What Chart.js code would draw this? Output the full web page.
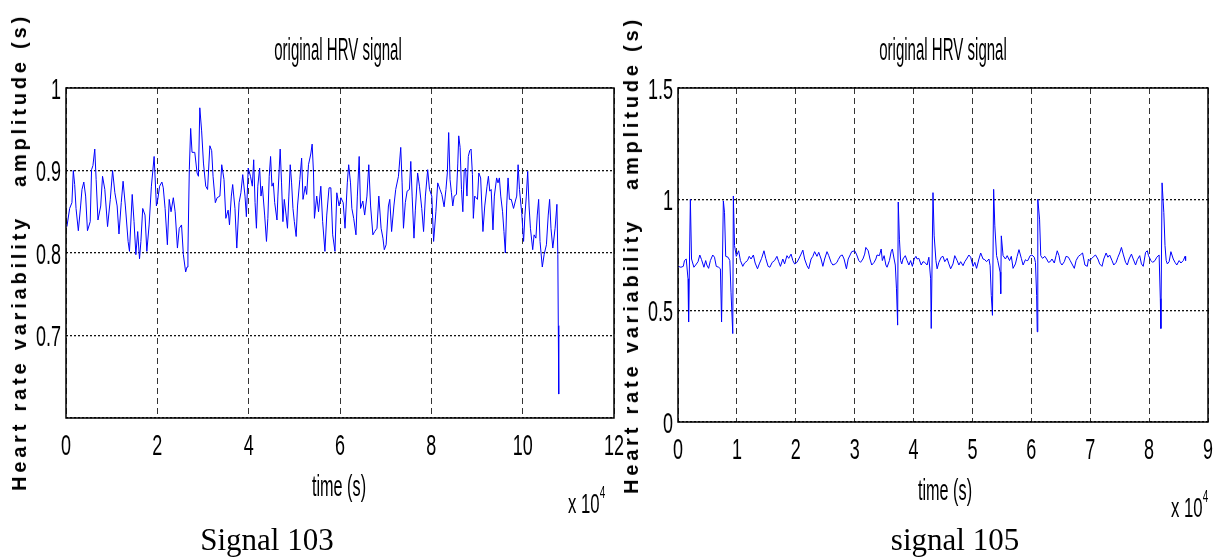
<!DOCTYPE html>
<html>
<head>
<meta charset="utf-8">
<script src="https://cdn.jsdelivr.net/npm/chart.js@4.4.1/dist/chart.umd.min.js"></script>
<style>
  body { margin: 0; background: #fff; }
  #page { position: relative; width: 1213px; height: 557px; overflow: hidden; background: #fff; }
  .box { position: absolute; top: 0; }
  .txt { position: absolute; white-space: pre; line-height: 1; color: #000; font-family: "Liberation Sans", Arial, sans-serif; }
  .title { font-size: 32px; transform: translateX(-50%) scaleX(0.47); }
  .xlab { font-size: 29px; transform: translateX(-50%) scaleX(0.56); }
  .expo { font-size: 27px; transform-origin: left top; transform: scaleX(0.62); }
  .expo span { font-size: 16px; position: relative; top: -15px; }
  .ylab { font-size: 20px; font-weight: bold; letter-spacing: 3.8px; transform: translate(-50%, -50%) rotate(-90deg); }
  .cap { font-family: "Liberation Serif", "Times New Roman", serif; font-size: 31px; transform: translateX(-50%); }
</style>
</head>
<body>
<div id="page">
  <div class="box" style="left:0"><canvas id="c103" width="640" height="557"></canvas></div>
  <div class="box" style="left:620px"><canvas id="c105" width="593" height="557"></canvas></div>

  <div class="txt title" style="left:338px; top:33px">original HRV signal</div>
  <div class="txt title" style="left:943px; top:33px">original HRV signal</div>
  <div class="txt xlab" style="left:339px; top:472px">time (s)</div>
  <div class="txt xlab" style="left:945px; top:476px">time (s)</div>
  <div class="txt expo" style="left:568px; top:491px">x 10<span>4</span></div>
  <div class="txt expo" style="left:1171px; top:495px">x 10<span>4</span></div>
  <div class="txt ylab" style="left:19px; top:252px">Heart rate variability   amplitude (s)</div>
  <div class="txt ylab" style="left:631px; top:255px">Heart rate variability   amplitude (s)</div>
  <div class="txt cap" style="left:267px; top:524px">Signal 103</div>
  <div class="txt cap" style="left:955px; top:524px">signal 105</div>
</div>
<script>
// signal 103, time in units of 1e4 s
const time103 = [
  0.02,0.08,0.13,0.16,0.19,0.22,0.27,0.32,0.35,0.39,0.43,0.47,0.53,0.56,0.59,0.63,0.66,0.70,0.76,0.80,
  0.85,0.91,0.97,1.02,1.07,1.12,1.16,1.21,1.25,1.30,1.36,1.39,1.45,1.49,1.53,1.57,1.61,1.64,1.68,1.73,
  1.77,1.82,1.87,1.93,1.98,2.01,2.05,2.10,2.13,2.17,2.22,2.26,2.30,2.35,2.39,2.44,2.48,2.53,2.57,2.62,
  2.65,2.67,2.70,2.73,2.76,2.82,2.87,2.90,2.93,2.97,3.01,3.06,3.10,3.15,3.19,3.22,3.27,3.31,3.37,3.41,
  3.46,3.50,3.55,3.58,3.62,3.65,3.70,3.74,3.79,3.83,3.87,3.92,3.95,3.99,4.04,4.08,
  4.11,4.14,4.17,4.20,4.24,4.27,4.30,4.35,4.39,4.42,4.45,4.48,4.51,4.54,4.57,4.62,4.64,4.69,4.72,4.75,
  4.78,4.82,4.85,4.88,4.91,4.94,4.97,5.00,5.04,5.07,5.12,5.16,5.19,5.24,5.27,5.31,5.36,5.39,5.42,5.44,
  5.49,5.53,5.58,5.62,5.67,5.71,5.76,5.80,5.84,5.89,5.93,5.98,6.02,6.07,6.11,6.16,6.19,6.23,6.26,6.30,
  6.35,6.38,6.42,6.45,6.50,6.54,6.59,6.63,6.67,6.72,6.76,6.81,6.85,6.90,6.94,6.97,7.01,7.06,7.09,7.13,
  7.18,7.22,7.28,7.33,7.36,7.39,7.43,7.47,7.52,7.55,7.58,7.62,7.65,7.70,7.74,7.79,7.83,7.87,7.92,7.96,
  8.01,8.05,8.10,8.14,8.19,
  8.23,8.28,8.32,8.35,8.38,8.41,8.44,8.47,8.50,8.55,8.58,8.60,8.63,8.66,8.69,8.72,8.75,8.78,8.81,8.84,
  8.87,8.90,8.92,8.95,8.98,9.01,9.04,9.08,9.13,9.17,9.22,9.25,9.28,9.31,9.35,9.38,9.43,9.46,9.49,9.52,
  9.56,9.59,9.62,9.65,9.68,9.71,9.75,9.80,9.84,9.87,9.90,9.93,9.98,10.02,10.05,10.08,10.11,10.14,10.17,10.22,
  10.25,10.29,10.32,10.35,10.38,10.43,10.47,10.52,10.56,10.59,10.62,10.66,10.71,10.75,10.77,10.78,10.79
];
const hrv103 = [
  0.832,0.854,0.861,0.900,0.883,0.854,0.827,0.857,0.877,0.886,0.869,0.827,0.838,0.901,0.906,0.926,0.889,0.840,0.857,0.893,
  0.877,0.832,0.865,0.900,0.873,0.857,0.823,0.861,0.887,0.857,0.814,0.802,0.871,0.838,0.798,0.826,0.793,0.814,0.854,0.846,
  0.802,0.834,0.881,0.917,0.857,0.865,0.881,0.886,0.879,0.854,0.810,0.865,0.850,0.867,0.850,0.806,0.830,0.834,0.798,0.777,
  0.783,0.802,0.901,0.951,0.922,0.922,0.897,0.893,0.976,0.948,0.909,0.881,0.877,0.930,0.924,0.893,0.861,0.867,0.869,0.907,
  0.889,0.842,0.852,0.834,0.869,0.883,0.854,0.806,0.861,0.873,0.895,0.869,0.844,0.903,0.893,0.881,
  0.913,0.861,0.830,0.881,0.903,0.869,0.881,0.846,0.814,0.842,0.893,0.917,0.881,0.885,0.861,0.840,0.869,0.926,0.885,0.838,
  0.865,0.846,0.830,0.869,0.907,0.885,0.854,0.838,0.820,0.857,0.889,0.915,0.865,0.881,0.871,0.907,0.920,0.932,0.897,0.842,
  0.869,0.850,0.881,0.838,0.802,0.846,0.879,0.879,0.822,0.802,0.873,0.857,0.867,0.861,0.830,0.885,0.907,0.885,0.854,0.842,
  0.822,0.869,0.917,0.854,0.863,0.846,0.869,0.907,0.857,0.822,0.826,0.830,0.869,0.830,0.818,0.804,0.810,0.857,0.865,0.826,
  0.857,0.877,0.893,0.928,0.885,0.830,0.861,0.875,0.877,0.911,0.869,0.818,0.852,0.897,0.881,0.854,0.826,0.869,0.901,0.877,
  0.869,0.814,0.850,0.885,0.877,
  0.871,0.856,0.877,0.897,0.946,0.889,0.873,0.857,0.869,0.871,0.909,0.942,0.928,0.877,0.850,0.899,0.903,0.869,0.917,0.924,
  0.926,0.895,0.842,0.869,0.867,0.865,0.897,0.891,0.826,0.857,0.881,0.893,0.875,0.877,0.828,0.869,0.891,0.885,0.891,0.869,
  0.850,0.826,0.800,0.857,0.891,0.865,0.865,0.854,0.863,0.869,0.907,0.877,0.848,0.814,0.846,0.869,0.899,0.857,0.830,0.804,
  0.822,0.818,0.846,0.865,0.814,0.783,0.798,0.810,0.846,0.865,0.830,0.806,0.830,0.859,0.798,0.712,0.629
];

// signal 105, time in units of 1e4 s
const time105 = [
  0.00,0.05,0.09,0.11,0.14,0.17,0.18,0.21,0.23,0.27,0.30,0.34,0.37,0.40,0.44,0.47,0.49,0.52,0.55,0.59,
  0.62,0.65,0.69,0.72,0.74,0.77,0.79,0.81,0.85,0.88,0.90,0.93,0.94,0.96,0.99,1.03,1.06,1.10,1.13,1.18,
  1.21,1.24,1.28,1.31,1.35,1.38,1.42,1.46,1.49,1.53,1.56,1.60,1.64,1.68,1.71,1.74,1.78,1.81,1.85,1.88,
  1.92,1.95,1.98,2.02,2.05,2.09,2.12,2.15,2.19,2.22,2.26,2.29,2.32,2.36,2.39,2.43,2.46,2.49,2.53,2.56,
  2.60,2.63,2.67,2.70,2.72,2.76,2.79,2.82,2.86,2.89,2.93,2.95,
  3.00,3.03,3.07,3.10,3.14,3.17,3.19,3.23,3.26,3.29,3.33,3.36,3.38,3.42,3.45,3.47,3.50,3.53,3.55,3.59,
  3.62,3.64,3.67,3.69,3.71,3.73,3.74,3.76,3.78,3.80,3.82,3.86,3.89,3.92,3.95,3.98,4.01,4.04,4.06,4.09,
  4.13,4.16,4.19,4.23,4.26,4.29,4.30,4.33,4.35,4.38,4.40,4.43,4.47,4.50,4.53,4.57,4.60,4.63,4.67,4.70,
  4.74,4.77,4.80,4.84,4.87,4.90,4.94,4.97,5.01,5.04,5.07,5.11,5.14,5.18,5.21,5.24,5.28,5.30,5.32,5.34,
  5.36,5.38,5.41,5.43,5.47,5.48,5.49,5.52,5.56,5.59,5.63,5.66,5.69,5.73,5.76,5.79,5.83,5.86,5.90,5.92,
  5.94,5.98,6.01,6.05,6.07,6.09,6.10,6.11,6.14,6.16,6.19,6.23,6.26,6.29,6.32,6.35,6.39,6.42,6.44,6.47,
  6.49,6.52,6.56,6.59,6.63,6.66,6.70,6.73,6.76,6.80,6.83,6.87,6.89,6.91,6.95,6.97,6.99,7.03,7.06,7.09,
  7.13,7.16,7.20,7.23,7.27,7.30,7.33,7.37,7.40,7.44,7.47,7.50,7.53,7.56,7.60,7.63,7.66,7.70,7.73,7.77,
  7.80,7.84,7.87,7.90,7.94,7.97,7.99,8.03,8.06,8.10,8.13,8.17,8.19,8.20,8.22,8.25,8.27,8.29,8.31,8.34,
  8.37,8.41,8.44,8.47,8.51,8.54,8.58,8.61,8.62
];
const hrv105 = [
  0.699,0.695,0.699,0.725,0.732,0.643,0.449,1.000,0.732,0.695,0.705,0.720,0.750,0.729,0.695,0.725,0.705,0.690,0.725,0.750,
  0.740,0.699,0.695,0.688,0.449,0.993,0.940,0.744,0.740,0.725,0.583,0.397,1.015,0.792,0.744,0.769,0.725,0.699,0.714,0.725,
  0.744,0.732,0.750,0.714,0.688,0.710,0.735,0.769,0.735,0.699,0.695,0.717,0.725,0.744,0.720,0.699,0.732,0.710,0.747,0.735,
  0.754,0.725,0.710,0.717,0.732,0.754,0.772,0.732,0.702,0.688,0.732,0.744,0.765,0.744,0.762,0.732,0.699,0.732,0.765,0.747,
  0.717,0.705,0.710,0.717,0.729,0.747,0.750,0.732,0.688,0.732,0.754,0.765,
  0.769,0.754,0.725,0.717,0.732,0.754,0.784,0.769,0.732,0.705,0.717,0.732,0.750,0.747,0.777,0.725,0.747,0.705,0.695,0.725,
  0.765,0.777,0.732,0.705,0.598,0.435,0.988,0.821,0.725,0.710,0.732,0.747,0.725,0.705,0.725,0.699,0.732,0.744,0.732,0.735,
  0.705,0.720,0.717,0.705,0.740,0.643,0.420,1.030,0.836,0.725,0.688,0.717,0.740,0.744,0.720,0.735,0.710,0.688,0.710,0.747,
  0.725,0.705,0.720,0.702,0.720,0.732,0.750,0.740,0.699,0.717,0.690,0.732,0.759,0.732,0.729,0.720,0.732,0.702,0.568,0.479,
  1.045,0.881,0.747,0.725,0.673,0.576,0.836,0.747,0.732,0.747,0.725,0.744,0.690,0.710,0.744,0.774,0.735,0.705,0.729,0.725,
  0.725,0.747,0.750,0.740,0.717,0.568,0.405,1.000,0.911,0.747,0.735,0.744,0.732,0.717,0.720,0.732,0.714,0.747,0.769,0.747,
  0.717,0.705,0.720,0.744,0.740,0.725,0.705,0.690,0.725,0.744,0.750,0.759,0.732,0.705,0.699,0.732,0.725,0.735,0.744,0.750,
  0.732,0.710,0.699,0.732,0.759,0.740,0.750,0.725,0.705,0.717,0.740,0.759,0.784,0.754,0.717,0.705,0.732,0.754,0.732,0.705,
  0.729,0.747,0.710,0.699,0.762,0.769,0.747,0.725,0.717,0.725,0.740,0.750,0.554,0.420,1.074,0.940,0.792,0.725,0.710,0.720,
  0.765,0.732,0.717,0.705,0.725,0.714,0.725,0.744,0.725
];

// draw tick labels squeezed like the old matlab figure, plus the axes box
function narrowText(ctx, text, x, y) {
  ctx.save();
  ctx.translate(x, y);
  ctx.scale(0.6, 1);
  ctx.fillText(text, 0, 0);
  ctx.restore();
}

const matlabAxes = {
  id: 'matlabAxes',
  afterDraw(chart, args, opts) {
    const ctx = chart.ctx;
    const a = chart.chartArea;
    const x = chart.scales.x, y = chart.scales.y;
    ctx.save();
    ctx.setLineDash([]);
    ctx.strokeStyle = '#000';
    ctx.lineWidth = 1.5;
    ctx.strokeRect(a.left, a.top, a.right - a.left, a.bottom - a.top);
    ctx.fillStyle = '#000';
    ctx.font = '30px "Liberation Sans", Arial, sans-serif';
    ctx.textAlign = 'center';
    x.ticks.forEach(t => {
      narrowText(ctx, String(Math.round(t.value)), x.getPixelForValue(t.value), a.bottom + 37);
    });
    ctx.textAlign = 'right';
    y.ticks.forEach(t => {
      const v = Number(t.value.toFixed(1));
      if (opts.hideY != null && Math.abs(v - opts.hideY) < 1e-6) return;
      narrowText(ctx, String(v), a.left - 5, y.getPixelForValue(t.value) + 10.5);
    });
    ctx.restore();
  }
};

function makeChart(id, xs, ys, xMax, xStep, yMin, yMax, yStep, pad, hideY) {
  const points = xs.map((t, i) => ({ x: t, y: ys[i] }));
  return new Chart(id, {
    type: 'line',
    data: {
      datasets: [{
        data: points,
        borderColor: '#0000ff',
        borderWidth: 1,
        pointRadius: 0,
        tension: 0,
        fill: false
      }]
    },
    options: {
      responsive: false,
      animation: false,
      layout: { padding: pad },
      plugins: {
        legend: { display: false },
        tooltip: { enabled: false },
        matlabAxes: { hideY: hideY }
      },
      scales: {
        x: {
          type: 'linear',
          min: 0, max: xMax,
          ticks: { display: false, stepSize: xStep },
          grid: { color: '#333', lineWidth: 1, drawTicks: false },
          border: { display: false, dash: [6, 4] },
          afterFit: s => { s.height = 0; }
        },
        y: {
          min: yMin, max: yMax,
          ticks: { display: false, stepSize: yStep },
          grid: { color: '#111', lineWidth: 1.3, drawTicks: false },
          border: { display: false, dash: [2, 2] },
          afterFit: s => { s.width = 0; }
        }
      }
    },
    plugins: [matlabAxes]
  });
}

makeChart('c103', time103, hrv103, 12, 2, 0.6, 1, 0.1, { left: 66, top: 88, right: 26, bottom: 139 }, 0.6);
makeChart('c105', time105, hrv105, 9, 1, 0, 1.5, 0.5, { left: 58, top: 88, right: 5, bottom: 135 }, null);
</script>
</body>
</html>
